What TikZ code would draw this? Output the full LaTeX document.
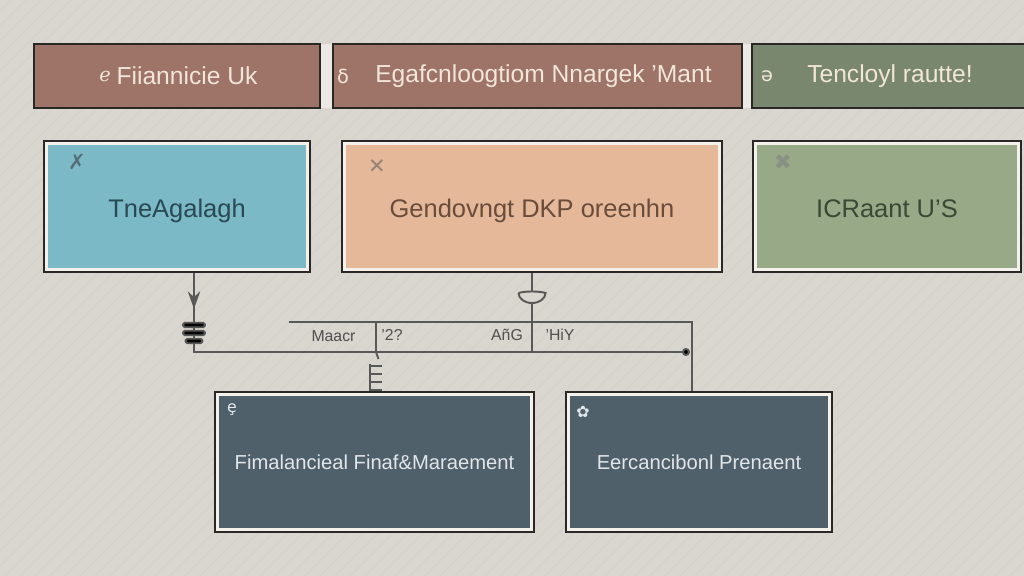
\documentclass[tikz,border=0pt]{standalone}
\usepackage{fontspec}
\setmainfont{Liberation Sans}
\newfontfamily\symfont{DejaVu Sans}
\usetikzlibrary{arrows.meta, positioning, calc}
\definecolor{paper}{RGB}{217,213,207}
\definecolor{grain}{RGB}{209,205,199}
\definecolor{strip}{RGB}{236,233,228}
\definecolor{edge}{RGB}{42,40,38}
\definecolor{frame}{RGB}{244,241,235}
\definecolor{wire}{RGB}{88,88,86}
\definecolor{brownbar}{RGB}{158,115,104}
\definecolor{greenbar}{RGB}{121,135,111}
\definecolor{bartxt}{RGB}{242,230,216}
\definecolor{bluecard}{RGB}{122,185,197}
\definecolor{bluetxt}{RGB}{42,72,84}
\definecolor{peachcard}{RGB}{228,184,152}
\definecolor{peachtxt}{RGB}{106,76,60}
\definecolor{sagecard}{RGB}{152,169,136}
\definecolor{sagetxt}{RGB}{58,72,52}
\definecolor{slatecard}{RGB}{80,96,106}
\definecolor{slatetxt}{RGB}{224,230,234}

\begin{document}
\begin{tikzpicture}[
        bar/.style={
            draw=edge,
            fill=#1,
            line width=1.2pt,
            minimum height=1.28cm,
            inner sep=0pt
          },
        bartext/.style={font=\fontsize{14}{16}\selectfont, text=bartxt},
        baricon/.style={font=\symfont\fontsize{11}{13}\selectfont, text=bartxt},
        card/.style={
            draw=edge,
            fill=frame,
            line width=1.3pt,
            inner sep=0pt,
            path picture={\fill[#1] ($(path picture bounding box.south west)+(2.4pt,2.4pt)$) rectangle ($(path picture bounding box.north east)+(-2.4pt,-2.4pt)$);}
          },
        cardtext/.style={font=\fontsize{14.5}{17}\selectfont, text height=15pt, text depth=3pt},
        lowtext/.style={font=\fontsize{11.5}{14}\selectfont},
        icon/.style={font=\symfont\fontsize{12}{14}\selectfont},
        wire/.style={draw=wire, line width=1.1pt},
        tip/.style={-{Stealth[length=10pt,width=7pt]}, wire},
        tag/.style={font=\fontsize{9}{11}\selectfont, text=wire!90!black},
        hatch/.style={draw=grain, line width=0.3pt}
      ]
      \useasboundingbox (0,0) rectangle (20.48,11.52);
      \fill[paper] (0,0) rectangle (20.48,11.52);
      \begin{scope}
        \clip (0,0) rectangle (20.48,11.52);
        \foreach \k in {-11.6,-11.3,...,20.5}
          \draw[hatch] (\k,0) -- ++(11.52,11.52);
      \end{scope}

      % top strip
      \fill[strip] (6.40,9.36) rectangle (15.04,10.64);
      \node[bar=brownbar, minimum width=5.72cm] (bar_fin) at (3.54,10.00) {};
      \node[bar=brownbar, minimum width=8.18cm] (bar_eng) at (10.75,10.00) {};
      \node[bar=greenbar, minimum width=5.56cm] (bar_tech) at (17.82,10.00) {};
      \node[bartext] (bar_fin_txt) at (3.74,10.00) {Fiiannicie Uk};
      \node[bartext] (bar_eng_txt) at (10.87,10.00) {Egafcnloogtiom Nnargek 'Mant};
      \node[bartext] (bar_tech_txt) at (17.80,10.00) {Tencloyl rautte!};
      \node[baricon] (bar_fin_ic) at (2.10,10.00) {ℯ};
      \node[baricon] (bar_eng_ic) at (6.86,10.00) {δ};
      \node[baricon] (bar_tech_ic) at (15.34,10.00) {ə};

      % middle row
      \node[card=bluecard, minimum width=5.32cm, minimum height=2.62cm, cardtext, text=bluetxt] (card_age) at (3.54,7.39) {TneAgalagh};
      \node[card=peachcard, minimum width=7.60cm, minimum height=2.62cm, cardtext, text=peachtxt] (card_dkp) at (10.64,7.39) {Gendovngt DKP oreenhn};
      \node[card=sagecard, minimum width=5.36cm, minimum height=2.62cm, cardtext, text=sagetxt] (card_us) at (17.74,7.39) {ICRaant U'S};
      \node[icon, text=bluetxt!80] (ic_age) at (1.54,8.28) {✗};
      \node[icon, text=peachtxt!70] (ic_dkp) at (7.54,8.18) {✕};
      \node[icon, text=sagetxt!60] (ic_us) at (15.66,8.28) {✖};

      % bottom row
      \node[card=slatecard, minimum width=6.38cm, minimum height=2.80cm, lowtext, text=slatetxt] (card_fin) at (7.49,2.28) {Fimalancieal Finaf\&Maraement};
      \node[card=slatecard, minimum width=5.32cm, minimum height=2.80cm, lowtext, text=slatetxt] (card_pre) at (13.98,2.28) {Eercancibonl Prenaent};
      \node[icon, text=slatetxt, font=\symfont\fontsize{9}{11}\selectfont] (ic_fin) at (4.64,3.32) {ȩ};
      \node[icon, text=slatetxt, font=\symfont\fontsize{9}{11}\selectfont] (ic_pre) at (11.66,3.28) {✿};

      % connectors
      \coordinate (j_left) at (3.88,4.48);
      \coordinate (j_dot) at (13.72,4.48);
      \coordinate (arr_tip) at (3.88,5.34);
      \coordinate (u_left) at (5.78,5.08);
      \coordinate (u_right) at (13.84,5.08);
      \coordinate (div_top) at (7.52,5.08);
      \coordinate (div_bot) at (7.52,4.48);

      \draw[wire] (card_age.south -| j_left) -- (j_left) -- (j_dot);
      \draw[tip] (card_age.south -| j_left) -- (arr_tip);
      \foreach \y/\w in {5.02/0.22, 4.86/0.22, 4.70/0.17}
        \fill[wire, rounded corners=1pt] (3.88-\w,\y-0.045) rectangle (3.88+\w,\y+0.045);
      \fill[wire] (j_dot) circle (0.06);

      \draw[wire] (u_left) -- (u_right) -- (card_pre.north -| u_right);
      \draw[wire] (card_dkp.south) -- (card_dkp.south |- j_left);
      \draw[wire, fill=paper] (10.37,5.66) .. controls (10.50,5.70) and (10.78,5.70) .. (10.91,5.66)
        arc[start angle=0, end angle=-180, x radius=0.27, y radius=0.20];
      \draw[wire] (div_top) -- (div_bot) -- ++(0.05,-0.14);
      \draw[wire] (7.40,4.24) -- (7.40,3.70);
      \foreach \y in {4.20,4.04,3.88,3.72}
        \draw[wire] (7.40,\y) -- (7.64,\y);

      \node[tag] (tag_mack) at (6.67,4.80) {Maacr};
      \node[tag] (tag_two) at (7.84,4.82) {'2?};
      \node[tag] (tag_ang) at (10.14,4.82) {AñG};
      \node[tag] (tag_hiy) at (11.20,4.82) {'HiY};
    \end{tikzpicture}
\end{document}
